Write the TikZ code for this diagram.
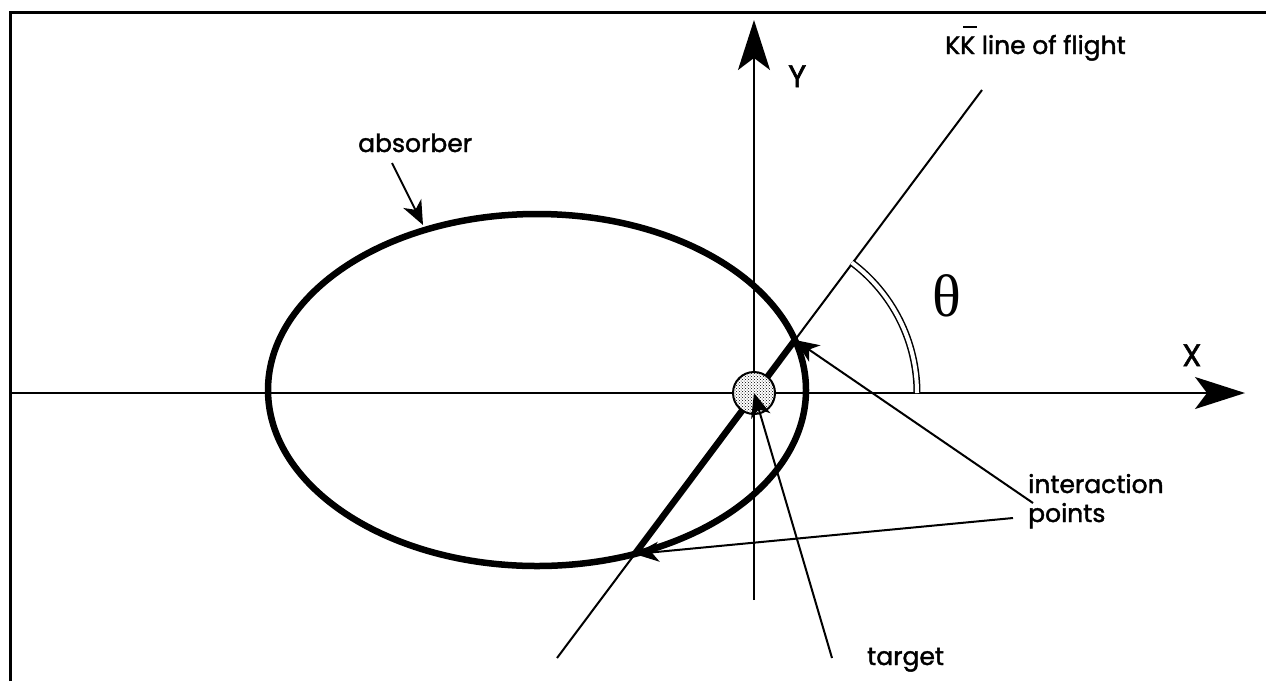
\documentclass[tikz,border=0pt]{standalone}
\usepackage{fontspec}
\setmainfont{Poppins}[FakeBold=1.6]
\newfontfamily\thetafont{Liberation Serif}
\usetikzlibrary{arrows.meta,intersections,patterns}
\begin{document}
\begin{tikzpicture}[x=1pt,y=-1pt,
  thinline/.style={line width=2pt},
  bigarrow/.style={line width=2pt,-{Stealth[length=50pt,width=32pt,inset=12pt]}},
  smallarrow/.style={line width=2pt,-{Stealth[length=24pt,width=20pt,inset=7pt]}},
  lbl/.style={font=\fontsize{25}{30}\selectfont, inner sep=0pt, anchor=base west},
  bigl/.style={font=\fontsize{31}{34}\selectfont, inner sep=0pt, anchor=base west}]
\useasboundingbox (0,0) rectangle (1266,681);
\fill[white] (0,0) rectangle (1266,681);
% frame
\draw[line width=3pt] (10,681) -- (10,12) -- (1266,12);
% axes
\coordinate (xs) at (10,393);
\coordinate (xe) at (1245,393);
\coordinate (ys) at (754,600);
\coordinate (ye) at (754,20);
\draw[bigarrow] (xs) -- (xe);
\draw[bigarrow] (ys) -- (ye);
% line of flight
\coordinate (fs) at (557,658);
\coordinate (fe) at (982,90);
\draw[thinline, name path=flight] (fs) -- (fe);
% absorber ellipse
\path[name path=abs] (537,390) ellipse [x radius=269pt, y radius=176pt];
\path[name intersections={of=flight and abs, by={lo,hi}, sort by=flight}];
\draw[line width=6.5pt] (lo) -- (hi);
\draw[line width=6.5pt] (537,390) ellipse [x radius=269pt, y radius=176pt];
% theta arc
\draw[double, double distance=4pt, line width=1.5pt] (917,393) arc[start angle=0, end angle=53.2, radius=163pt];
% target
\node[circle, draw, line width=2pt, minimum size=42pt, inner sep=0pt, preaction={fill=white}, pattern=crosshatch dots] (tgt) at (754,393) {};
% labels
\node[lbl] (kk) at (945,54) {K\rlap{\hspace{3pt}\rule[26pt]{14pt}{1.6pt}}K line of flight};
\node[bigl] (ylab) at (788,87) {Y};
\node[bigl] (xlab) at (1182,366) {X};
\node[font=\thetafont\fontsize{60}{60}\selectfont, inner sep=0pt] (th) at (947,296) {θ};
\node[lbl] (absl) at (358,152) {absorber};
\node[lbl] (int1) at (1028,493) {interaction};
\node[lbl] (int2) at (1028,522) {points};
\node[lbl] (tgtl) at (867,665) {target};
% pointer arrows
\coordinate (ab1) at (392,163);
\coordinate (abt) at (423,225);
\draw[smallarrow] (ab1) -- (abt);
\coordinate (ia1) at (1033,503);
\coordinate (ia2) at (1013,518);
\draw[smallarrow] (ia1) -- (hi);
\draw[smallarrow] (ia2) -- (lo);
\coordinate (ta) at (832,658);
\draw[smallarrow] (ta) -- (tgt.center);
\end{tikzpicture}
\end{document}
